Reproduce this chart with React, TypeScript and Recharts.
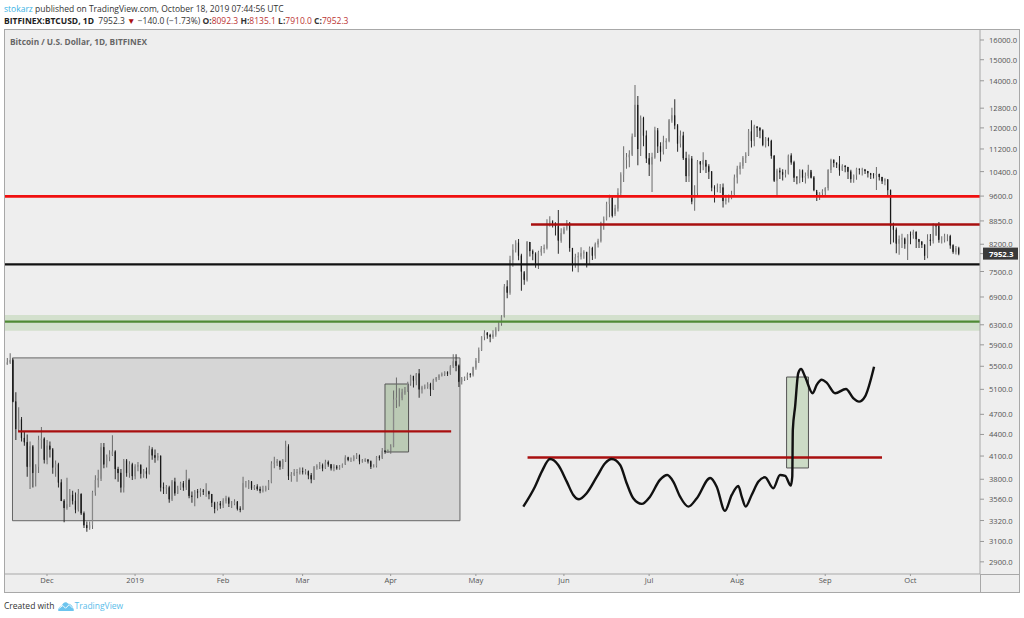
import { ComposedChart, Bar, Line, Cell, XAxis, YAxis, ReferenceArea, ReferenceLine } from 'recharts';

// daily candles, first one is 17 Nov 2018, last one is 18 Oct 2019
const firstOpen = 5530;
const closes = [
  5570, 5610, 4900, 4480, 4620, 4350, 4290, 3960, 4230, 3880, 3960, 4320, 4340, 4050,
  4240, 4190, 3950, 3990, 3760, 3540, 3460, 3500, 3610, 3540, 3440, 3620, 3400, 3270, 3240, 3270, 3640, 3790, 3810, 4220, 3990, 4090, 4120, 4160, 3930, 3880, 3700, 4040, 3880, 3990, 3840,
  3960, 3980, 3870, 3900, 3870, 4190, 4110, 4080, 4100, 3700, 3690, 3700, 3560, 3770, 3630, 3690, 3750, 3700, 3790, 3600, 3590, 3650, 3640, 3660, 3650, 3650, 3620, 3520, 3450, 3510, 3490,
  3540, 3570, 3510, 3510, 3530, 3450, 3440, 3750, 3750, 3770, 3690, 3710, 3680, 3660, 3670, 3700, 3760, 4000, 4010, 4030, 3960, 4040, 4230, 3840, 3860, 3880, 3890, 3900,
  3890, 3900, 3850, 3800, 3950, 3970, 3980, 3940, 4020, 3990, 3940, 3960, 3940, 3950, 3990, 4080, 4050, 4050, 4090, 4110, 4030, 4040, 4050, 4030, 3960, 3970, 4090, 4080, 4170, 4160, 4170,
  4230, 4930, 4960, 4960, 5050, 5070, 5200, 5330, 5250, 5370, 5100, 5130, 5140, 5190, 5100, 5260, 5300, 5340, 5360, 5390, 5370, 5500, 5590, 5510, 5230, 5280, 5290, 5360, 5350, 5480,
  5600, 5800, 6060, 6140, 6090, 6060, 6100, 6200, 6330, 6470, 7140, 7000, 7790, 8050, 8240, 7900, 7500, 7300, 8260, 8020, 7950, 7700, 7990, 8080, 8100, 8780, 8830, 8800, 8700, 8300, 8500,
  8630, 8780, 8100, 7700, 7860, 7880, 7960, 7990, 7700, 8100, 7900, 8200, 8290, 8780, 8900, 9350, 9550, 9000, 9220, 9700, 10300, 10800, 10900, 11000, 11660, 12935, 11200, 12400, 11700, 10860,
  10650, 10900, 11900, 11300, 11100, 11450, 11500, 12300, 12500, 12100, 11400, 11700, 10870, 10250, 10850, 9430, 9700, 10750, 10650, 10800, 10580, 10400, 9870, 9850, 9860, 9870, 9450, 9500, 9560, 9650, 10200,
  10500, 10600, 10880, 10980, 11860, 11500, 12050, 12000, 11900, 11350, 11600, 11500, 10950, 10100, 10430, 10380, 10300, 10330, 10960, 10720, 10200, 10190, 10440, 10200, 10250, 10450, 10200, 9790, 9600, 9700, 9750,
  9860, 10456, 10800, 10700, 10650, 10450, 10600, 10560, 10400, 10150, 10280, 10500, 10470, 10480, 10420, 10350, 10290, 10280, 10320, 10220, 10080, 10130, 9790, 8700, 8600, 8220, 8340, 8350, 8210, 8460,
  8450, 8540, 8340, 8270, 8190, 7900, 8320, 8290, 8720, 8700, 8320, 8320, 8420, 8420, 8170, 8000, 8092.3, 7952.3,
];
const highs = [
  5650, 5740, 5640, 5050, 4810, 4660, 4440, 4400, 4300, 4250, 3990, 4380, 4510, 4360,
  4320, 4300, 4210, 4040, 4010, 3800, 3560, 3820, 3680, 3660, 3640, 3680, 3630, 3420, 3310, 3310, 3660, 3850, 3920, 4280, 4280, 4120, 4180, 4390, 4180, 3960, 3930, 4060, 4060, 4030, 4010,
  3990, 4020, 3990, 3930, 3950, 4240, 4220, 4190, 4140, 4110, 3760, 3730, 3720, 3790, 3820, 3720, 3770, 3780, 3920, 3810, 3650, 3670, 3680, 3690, 3680, 3750, 3660, 3620, 3530, 3530, 3540,
  3570, 3600, 3590, 3540, 3560, 3540, 3480, 3830, 3780, 3790, 3780, 3730, 3740, 3710, 3720, 3720, 3790, 4030, 4090, 4060, 4040, 4060, 4310, 4260, 3890, 3930, 3930, 3950,
  3950, 3930, 3910, 3880, 3970, 3990, 4020, 4000, 4050, 4040, 3990, 3990, 3980, 3980, 4000, 4110, 4090, 4080, 4110, 4140, 4120, 4060, 4070, 4060, 4040, 3990, 4100, 4110, 4210, 4180, 4190,
  4260, 5080, 5300, 5120, 5110, 5140, 5230, 5350, 5330, 5380, 5450, 5160, 5180, 5220, 5210, 5280, 5310, 5360, 5390, 5410, 5410, 5520, 5720, 5720, 5530, 5310, 5320, 5390, 5380, 5490,
  5650, 5850, 6070, 6190, 6150, 6120, 6190, 6250, 6350, 6500, 7200, 7290, 7900, 8200, 8310, 8340, 7950, 7450, 8290, 8260, 8060, 7990, 8030, 8150, 8190, 8900, 8990, 8870, 8800, 9170, 8640,
  8680, 8880, 8820, 8100, 7950, 7990, 8120, 8040, 8000, 8140, 8130, 8250, 8350, 8830, 8980, 9420, 9640, 9560, 9330, 9850, 10380, 11300, 11050, 11150, 11780, 13810, 13320, 12500, 12450, 11900,
  11050, 11060, 12050, 12000, 11450, 11700, 11600, 12350, 12820, 13180, 12150, 11900, 11850, 11100, 11000, 10950, 9950, 10800, 10770, 11080, 10680, 10650, 10420, 9950, 10000, 9990, 10000, 9640, 9650, 9770, 10300,
  10600, 10720, 10950, 11080, 11960, 12300, 12120, 12060, 12030, 11950, 11650, 11630, 11540, 10980, 10500, 10530, 10480, 10460, 11000, 11040, 10780, 10250, 10480, 10470, 10370, 10640, 10380, 10250, 9730, 9720, 9820,
  9880, 10480, 10850, 10830, 10720, 10950, 10650, 10620, 10560, 10460, 10300, 10530, 10500, 10530, 10460, 10420, 10340, 10350, 10560, 10330, 10220, 10180, 10150, 9810, 8800, 8660, 8440, 8490, 8380, 8470,
  8550, 8600, 8550, 8330, 8280, 8190, 8470, 8480, 8780, 8760, 8820, 8420, 8490, 8470, 8460, 8200, 8150, 8135.1,
];
const lows = [
  5530, 5540, 4890, 4320, 4450, 4300, 4240, 3830, 3680, 3700, 3710, 3880, 4200, 4000,
  3990, 4080, 3870, 3830, 3700, 3540, 3300, 3440, 3470, 3500, 3400, 3420, 3380, 3240, 3200, 3220, 3230, 3600, 3700, 3780, 3940, 3950, 4030, 4100, 3800, 3770, 3640, 3640, 3830, 3820, 3790,
  3800, 3900, 3810, 3820, 3810, 3860, 4050, 4010, 4040, 3650, 3620, 3620, 3520, 3540, 3600, 3620, 3670, 3660, 3670, 3570, 3520, 3480, 3570, 3590, 3610, 3590, 3560, 3470, 3400, 3430, 3450,
  3460, 3510, 3470, 3460, 3490, 3430, 3410, 3440, 3700, 3680, 3670, 3670, 3660, 3630, 3640, 3650, 3670, 3750, 3940, 3970, 3920, 3930, 4020, 3790, 3770, 3840, 3770, 3860,
  3860, 3860, 3800, 3750, 3790, 3920, 3930, 3900, 3930, 3960, 3910, 3900, 3920, 3920, 3950, 3980, 4030, 4020, 4030, 4060, 3990, 4010, 4020, 4000, 3930, 3950, 3950, 4040, 4060, 4130, 4140,
  4130, 4220, 4800, 4820, 4920, 5010, 5060, 5160, 5130, 5170, 4960, 5030, 5100, 5110, 4990, 5090, 5230, 5260, 5320, 5330, 5330, 5350, 5470, 5410, 5140, 5180, 5240, 5260, 5300, 5320,
  5440, 5560, 5780, 5990, 6020, 5950, 6020, 6060, 6170, 6280, 6450, 6870, 6950, 7620, 7980, 7780, 7040, 7180, 7260, 7880, 7780, 7590, 7560, 7900, 7960, 8060, 8690, 8660, 8440, 7950, 8240,
  8470, 8580, 8000, 7500, 7590, 7480, 7800, 7820, 7600, 7680, 7790, 7820, 8110, 8250, 8600, 8860, 8960, 8950, 9050, 9130, 9620, 10050, 10500, 10550, 10950, 11650, 10620, 10950, 11300, 10700,
  10250, 9730, 10850, 11050, 10750, 11000, 11200, 11450, 12200, 11950, 11100, 11250, 10800, 10050, 10050, 9350, 9150, 9600, 10350, 10450, 10350, 10150, 9750, 9400, 9720, 9700, 9250, 9340, 9400, 9500, 9600,
  10000, 10300, 10500, 10700, 10950, 11250, 11300, 11650, 11600, 11300, 11250, 11300, 10850, 10050, 9570, 10150, 10100, 10200, 10300, 10640, 10050, 9980, 10010, 10050, 10000, 10170, 10170, 9750, 9450, 9480, 9630,
  9620, 9780, 10350, 10550, 10520, 10260, 10420, 10380, 10150, 10030, 10030, 10130, 10300, 10270, 10320, 10200, 10150, 10170, 9790, 10100, 9990, 9950, 9580, 8200, 8250, 7960, 7920, 8100, 8080, 7790,
  8200, 8350, 8100, 8100, 8100, 7790, 7830, 8160, 8220, 8430, 8240, 8220, 8250, 8280, 8080, 7950, 7930, 7910,
];

// the hand drawn curve in the lower right of the chart
const curveDays = [181.7, 185.8, 188.2, 191.1, 194, 197, 199.3, 201.3, 204, 207.6, 210.5, 212.8, 215.8, 218.1, 220.4, 223.4, 226.3, 229.8, 232.4, 234.5, 236.9, 239.8, 242.8, 247.5, 249.8, 252.7, 255.1, 257.4, 258.6, 260, 262.1, 264.5, 266.8, 269.7, 272.1, 273.9, 275.9, 276.4, 276.6, 277.4, 278.5, 279.5, 280.9, 283.6, 285, 286.8, 288.5, 291.5, 295.3, 297.9, 299.9, 302, 305.2];
const curvePrices = [3475, 3709, 3896, 4060, 3982, 3771, 3610, 3559, 3630, 3832, 4005, 4060, 3982, 3751, 3571, 3506, 3590, 3792, 3854, 3771, 3590, 3475, 3571, 3816, 3709, 3426, 3610, 3718, 3590, 3475, 3610, 3771, 3825, 3690, 3854, 3842, 3722, 3832, 4466, 4819, 5376, 5452, 5317, 5035, 5175, 5264, 5213, 5035, 5107, 4954, 4899, 4980, 5493];

const monthDays = [14, 45, 76, 104, 135, 165, 196, 226, 257, 288, 318];
const monthLabels = ['Dec', '2019', 'Feb', 'Mar', 'Apr', 'May', 'Jun', 'Jul', 'Aug', 'Sep', 'Oct'];
const lastPrice = 7952.3;
const priceTicks = [16000, 15000, 14000, 12800, 12000, 11200, 10400, 9600, 8850, 8200, 7500, 6900, 6300, 5900, 5500, 5100, 4700, 4400, 4100, 3800, 3560, 3320, 3100, 2900, lastPrice];

const UP = '#8a8a8a';
const DOWN = '#161616';
const BORDER = '#a8a8a8';
const FONT = '"Open Sans", sans-serif';
const DOMAIN_X: [number, number] = [-0.79, 342.5];

const candles = closes.map((close, i) => {
  const open = i === 0 ? firstOpen : closes[i - 1];
  return {
    day: i,
    up: close >= open,
    wick: [lows[i], highs[i]],
    body: [Math.min(open, close), Math.max(open, close)],
  };
});
const curve = curveDays.map((day, i) => ({ day, price: curvePrices[i] }));

function PriceTick({ x, y, payload }: any) {
  if (payload.value === lastPrice) {
    return (
      <g>
        <rect x={x - 3} y={y - 6} width={35} height={12} fill="#3a3a3a" />
        <text x={x + 3} y={y + 3} fontSize={7.8} fontWeight={700} fill="#fff" fontFamily={FONT}>7952.3</text>
      </g>
    );
  }
  return (
    <text x={x + 3} y={y + 3} fontSize={7.6} fill="#555" fontFamily={FONT}>{payload.value.toFixed(1)}</text>
  );
}

export default function App() {
  return (
    <div style={{ position: 'absolute', left: 0, top: 0, width: 1024, height: 618, background: '#fff', fontFamily: FONT, overflow: 'hidden' }}>
      <div style={{ position: 'absolute', left: 4, top: 3, fontSize: 8.5, lineHeight: '11px', color: '#333', whiteSpace: 'nowrap' }}>
        <span style={{ color: '#3bb3e4' }}>stokarz</span> published on TradingView.com, October 18, 2019 07:44:56 UTC
      </div>
      <div style={{ position: 'absolute', left: 4, top: 15, fontSize: 8.5, lineHeight: '11px', color: '#333', whiteSpace: 'nowrap' }}>
        <b style={{ color: '#222' }}>BITFINEX:BTCUSD, 1D</b>&nbsp; 7952.3 <span style={{ color: '#a11' }}>▼</span> −140.0 (−1.73%)
        {' '}<b>O:</b><span style={{ color: '#b33' }}>8092.3</span> <b>H:</b><span style={{ color: '#b33' }}>8135.1</span> <b>L:</b><span style={{ color: '#b33' }}>7910.0</span> <b>C:</b><span style={{ color: '#b33' }}>7952.3</span>
      </div>

      <div style={{ position: 'absolute', left: 4, top: 29, width: 1016, height: 564, background: '#eeeeee', border: `1px solid ${BORDER}`, boxSizing: 'border-box' }} />
      <div style={{ position: 'absolute', left: 980, top: 574, width: 1, height: 18, background: BORDER }} />
      <div style={{ position: 'absolute', left: 980, top: 574, width: 39, height: 1, background: BORDER }} />
      <div style={{ position: 'absolute', left: 10, top: 36, fontSize: 8.3, lineHeight: '11px', fontWeight: 700, color: '#666', whiteSpace: 'nowrap' }}>
        Bitcoin / U.S. Dollar, 1D, BITFINEX
      </div>

      <div style={{ position: 'absolute', left: 0, top: 0 }}>
        <ComposedChart width={1024} height={618} data={candles} margin={{ top: 29, right: 0, bottom: 26, left: 5 }}>
          <XAxis
            xAxisId="main"
            dataKey="day"
            type="number"
            domain={DOMAIN_X}
            allowDataOverflow
            ticks={monthDays}
            tickFormatter={(d: number) => monthLabels[monthDays.indexOf(d)]}
            interval={0}
            height={18}
            tickSize={2}
            tick={{ fontSize: 7.6, fill: '#555', fontFamily: FONT }}
            axisLine={{ stroke: BORDER }}
            tickLine={{ stroke: '#999' }}
          />
          <XAxis xAxisId="wicks" dataKey="day" type="number" domain={DOMAIN_X} allowDataOverflow hide />
          <YAxis
            xAxisId="main"
            orientation="right"
            scale="log"
            domain={[2787, 16586]}
            allowDataOverflow
            ticks={priceTicks}
            interval={0}
            width={44}
            tickSize={4}
            tick={<PriceTick />}
            axisLine={{ stroke: BORDER }}
            tickLine={{ stroke: '#999' }}
          />

          <ReferenceArea xAxisId="main" x1={DOMAIN_X[0]} x2={DOMAIN_X[1]} y1={6180} y2={6505} fill="#8fbf7a" fillOpacity={0.28} />

          <Bar xAxisId="wicks" dataKey="wick" barSize={1} isAnimationActive={false}>
            {candles.map((c) => (
              <Cell key={c.day} fill={c.up ? '#6a6a6a' : '#2a2a2a'} />
            ))}
          </Bar>
          <Bar xAxisId="main" dataKey="body" barSize={2} isAnimationActive={false}>
            {candles.map((c) => (
              <Cell key={c.day} fill={c.up ? UP : DOWN} stroke={c.up ? UP : DOWN} strokeWidth={0.8} />
            ))}
          </Bar>

          <ReferenceArea xAxisId="main" x1={1.85} x2={159.4} y1={3318} y2={5653} fill="#777" fillOpacity={0.2} stroke="#666" strokeWidth={1} />
          <ReferenceArea xAxisId="main" x1={133} x2={141.3} y1={4155} y2={5190} fill="#7fb069" fillOpacity={0.3} stroke="#555" strokeWidth={1} />
          <ReferenceArea xAxisId="main" x1={274.4} x2={282.1} y1={3943} y2={5310} fill="#7fb069" fillOpacity={0.3} stroke="#555" strokeWidth={1} />

          <ReferenceLine xAxisId="main" y={9590} stroke="#f01010" strokeWidth={2.6} />
          <ReferenceLine xAxisId="main" segment={[{ x: 184.4, y: 8746 }, { x: DOMAIN_X[1], y: 8746 }]} stroke="#a80f0f" strokeWidth={2.4} />
          <ReferenceLine xAxisId="main" y={7676} stroke="#111" strokeWidth={2.4} />
          <ReferenceLine xAxisId="main" y={6365} stroke="#4f8a34" strokeWidth={2.2} />
          <ReferenceLine xAxisId="main" segment={[{ x: 3.8, y: 4445 }, { x: 156.3, y: 4445 }]} stroke="#a80f0f" strokeWidth={2.4} />
          <ReferenceLine xAxisId="main" segment={[{ x: 183.2, y: 4080 }, { x: 308, y: 4080 }]} stroke="#a80f0f" strokeWidth={2.4} />

          <Line xAxisId="main" data={curve} dataKey="price" type="monotone" stroke="#111" strokeWidth={2.4} dot={false} isAnimationActive={false} />
        </ComposedChart>
      </div>

      <div style={{ position: 'absolute', left: 4, top: 600, fontSize: 8.5, lineHeight: '11px', color: '#333', whiteSpace: 'nowrap', display: 'flex', alignItems: 'center' }}>
        Created with
        <svg width={16} height={10} viewBox="0 0 17 11" style={{ margin: '0 1px 0 3px' }}>
          <path d="M0 9 C1 6 3 6 4 5 C5 1 9 0 11 3 C14 3 16 6 17 9 L17 11 L0 11 Z" fill="#6cc4ee" />
          <path d="M1 8 L5 5 L8 8 L12 4 L16 8" fill="none" stroke="#fff" strokeWidth={1} />
        </svg>
        <span style={{ color: '#5bbdea' }}>TradingView</span>
      </div>
    </div>
  );
}
